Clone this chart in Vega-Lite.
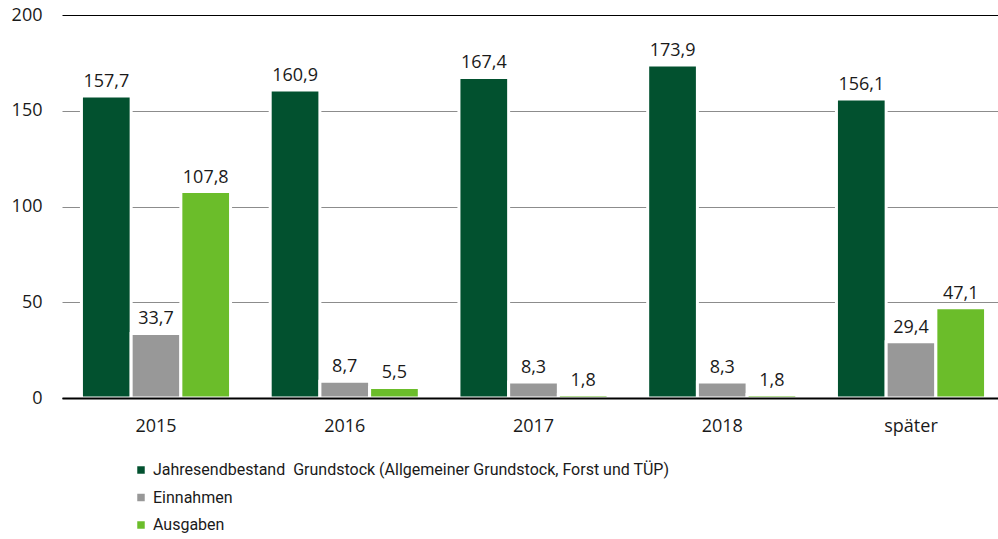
{
  "$schema": "https://vega.github.io/schema/vega-lite/v6.json",
  "width": 943,
  "height": 383,
  "autosize": {"type": "none"},
  "padding": {"left": 62, "top": 15, "right": 0, "bottom": 141},
  "config": {
    "view": {"stroke": null},
    "font": "Open Sans",
    "locale": {"number": {"decimal": ",", "thousands": ".", "grouping": [3], "currency": ["", " €"]}}
  },
  "data": {
    "values": [
      {"jahr": "2015", "reihe": "Jahresendbestand\u00a0 Grundstock (Allgemeiner Grundstock, Forst und TÜP)", "wert": 157.7},
      {"jahr": "2015", "reihe": "Einnahmen", "wert": 33.7},
      {"jahr": "2015", "reihe": "Ausgaben", "wert": 107.8},
      {"jahr": "2016", "reihe": "Jahresendbestand\u00a0 Grundstock (Allgemeiner Grundstock, Forst und TÜP)", "wert": 160.9},
      {"jahr": "2016", "reihe": "Einnahmen", "wert": 8.7},
      {"jahr": "2016", "reihe": "Ausgaben", "wert": 5.5},
      {"jahr": "2017", "reihe": "Jahresendbestand\u00a0 Grundstock (Allgemeiner Grundstock, Forst und TÜP)", "wert": 167.4},
      {"jahr": "2017", "reihe": "Einnahmen", "wert": 8.3},
      {"jahr": "2017", "reihe": "Ausgaben", "wert": 1.8},
      {"jahr": "2018", "reihe": "Jahresendbestand\u00a0 Grundstock (Allgemeiner Grundstock, Forst und TÜP)", "wert": 173.9},
      {"jahr": "2018", "reihe": "Einnahmen", "wert": 8.3},
      {"jahr": "2018", "reihe": "Ausgaben", "wert": 1.8},
      {"jahr": "später", "reihe": "Jahresendbestand\u00a0 Grundstock (Allgemeiner Grundstock, Forst und TÜP)", "wert": 156.1},
      {"jahr": "später", "reihe": "Einnahmen", "wert": 29.4},
      {"jahr": "später", "reihe": "Ausgaben", "wert": 47.1}
    ]
  },
  "encoding": {
    "x": {
      "field": "jahr", "type": "nominal",
      "sort": ["2015", "2016", "2017", "2018", "später"],
      "scale": {"paddingInner": 0.21, "paddingOuter": 0.103},
      "axis": {
        "title": null, "labelAngle": 0, "ticks": false,
        "domain": true, "domainColor": "#000000", "domainWidth": 2,
        "labelFontSize": 18, "labelColor": "#1a1a1a", "labelPadding": 19,
        "zindex": 1
      }
    },
    "xOffset": {
      "field": "reihe", "type": "nominal",
      "sort": ["Jahresendbestand\u00a0 Grundstock (Allgemeiner Grundstock, Forst und TÜP)", "Einnahmen", "Ausgaben"],
      "scale": {"paddingInner": 0, "paddingOuter": 0}
    },
    "y": {
      "field": "wert", "type": "quantitative",
      "scale": {"domain": [0, 200]},
      "axis": {
        "title": null, "values": [0, 50, 100, 150, 200],
        "domain": false, "ticks": false, "labelPadding": 20,
        "labelFontSize": 18, "labelColor": "#1a1a1a",
        "gridColor": {"condition": {"test": "datum.value == 200 || datum.value == 0", "value": "#000000"}, "value": "#8c8c8c"},
        "gridWidth": 1, "gridOpacity": 1
      }
    }
  },
  "layer": [
    {
      "mark": {"type": "bar", "stroke": "white", "strokeWidth": 3},
      "encoding": {
        "color": {
          "field": "reihe", "type": "nominal",
          "sort": ["Jahresendbestand\u00a0 Grundstock (Allgemeiner Grundstock, Forst und TÜP)", "Einnahmen", "Ausgaben"],
          "scale": {
            "domain": ["Jahresendbestand\u00a0 Grundstock (Allgemeiner Grundstock, Forst und TÜP)", "Einnahmen", "Ausgaben"],
            "range": ["#02512f", "#989898", "#6bbd2a"]
          },
          "legend": {
            "title": null, "orient": "none", "legendX": 71, "legendY": 447,
            "symbolType": "square", "symbolSize": 56, "symbolStrokeWidth": 0,
            "labelFont": "Roboto", "labelFontSize": 16, "labelColor": "#1a1a1a",
            "labelOffset": 4, "rowPadding": 11.5, "padding": 0, "labelLimit": 800
          }
        }
      }
    },
    {
      "mark": {"type": "text", "baseline": "alphabetic", "dy": -9, "fontSize": 18, "color": "#1a1a1a"},
      "encoding": {
        "text": {"field": "wert", "type": "quantitative", "format": ".1f"}
      }
    }
  ]
}
